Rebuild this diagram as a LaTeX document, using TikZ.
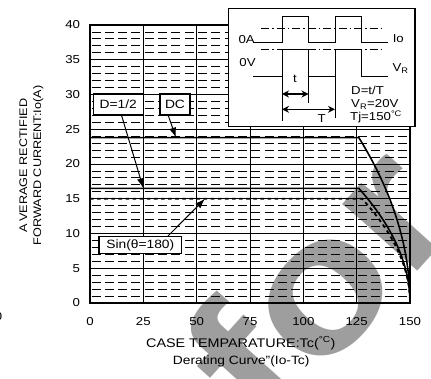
\documentclass[tikz,border=0pt]{standalone}
\usepackage{fontspec}
\setmainfont{Liberation Sans}[FakeStretch=1.15]
\usetikzlibrary{arrows.meta}
\pgfdeclarelayer{marklayer}
\pgfdeclarelayer{gridlayer}
\pgfsetlayers{marklayer,gridlayer,main}
\tikzset{font=\fontsize{11.5}{13}\selectfont}
\tikzstyle{none}=[inner sep=0pt]
\tikzstyle{tick}=[inner sep=0pt]
\tikzstyle{title}=[inner sep=0pt,font=\fontsize{12.5}{14}\selectfont]
\tikzstyle{ytitle}=[inner sep=0pt,rotate=90,font=\fontsize{11}{13}\selectfont]
\tikzstyle{tag}=[draw,fill=white,line width=1.2pt,inner sep=0pt,font=\fontsize{12}{14}\selectfont]
\tikzstyle{watermark}=[inner sep=0pt,text=black!38,rotate=48,font=\fontsize{190}{190}\selectfont\bfseries]
\tikzstyle{minor}=[line width=0.8pt,dash pattern=on 9pt off 4.33pt,dash phase=11.83pt]
\tikzstyle{major}=[line width=0.8pt]
\tikzstyle{frame}=[line width=2.2pt]
\tikzstyle{curve}=[line width=1.6pt,line join=round]
\tikzstyle{sincurve}=[line width=1.8pt,dash pattern=on 3.6pt off 3.5pt]
\tikzstyle{pointer}=[line width=1pt,-{Latex[length=10pt,width=7pt]}]
\tikzstyle{wave}=[line width=1pt]
\tikzstyle{level}=[line width=1pt,dash pattern=on 8pt off 3pt on 1.5pt off 3pt]
\tikzstyle{span}=[line width=1.2pt,{Stealth[length=7pt,width=7pt]}-{Stealth[length=7pt,width=7pt]}]
\newcommand{\degc}{\textsuperscript{\textdegree C}}

\begin{document}
\begin{tikzpicture}[x=1pt,y=1pt]
	\useasboundingbox (0,0) rectangle (431,378);
	\begin{pgfonlayer}{marklayer}
		\node [style=watermark] (mark) at (316.8, 95.6) {for};
	\end{pgfonlayer}
	\begin{scope}[shift={(90,75)},x=2.13333pt,y=6.95pt]
		\begin{pgfonlayer}{gridlayer}
			\foreach \j in {0,5,...,35}
				\foreach \k in {1,...,4}
					\draw [style=minor] (0,\j+\k) -- (150,\j+\k);
			\foreach \j in {5,10,...,35}
				\draw [style=major] (0,\j) -- (150,\j);
			\foreach \i in {25,50,...,125}
				\draw [style=major] (\i,0) -- (\i,40);
		\end{pgfonlayer}
		\draw [style=frame] (0,0) rectangle (150,40);
		\foreach \t in {0,25,...,150}
			\node [style=tick] (x\t) at (\t, -2.7) {\t};
		\foreach \a in {0,5,...,40}
			\node [style=tick, anchor=east] (y\a) at (-4.6, \a) {\a};
		% derating curves
		\draw [style=curve] (0,23.8) -- (126,23.8) -- plot[domain=23.8:0,samples=60] ({150-24*(\x/23.8)^2},\x);
		\draw [style=curve] (0,16.5) -- (126,16.5) -- plot[domain=16.5:0,samples=60] ({150-24*(\x/16.5)^2},\x);
		\draw [style=sincurve] (0,15) -- (127.5,15) -- plot[domain=15:0,samples=60] ({150-22.5*(\x/15)^2},\x);
		% labels
		\coordinate (dhalfpt) at (25, 16.5);
		\coordinate (dcpt) at (40.3, 23.8);
		\coordinate (sinpt) at (53.9, 15);
		\node [style=tag, minimum width=50pt, minimum height=21pt] (dhalf) at (13.27, 28.56) {D=1/2};
		\node [style=tag, minimum width=30pt, minimum height=21pt] (dc) at (39.84, 28.56) {DC};
		\node [style=tag, minimum width=82.7pt, minimum height=16.7pt] (sin) at (23.58, 8.35) {Sin(θ=180)};
		\draw [style=pointer] (dhalf) -- (dhalfpt);
		\draw [style=pointer] ([xshift=-6.7pt]dc.south) -- (dcpt);
		\draw [style=pointer] ([xshift=27.7pt]sin.north) -- (sinpt);
	\end{scope}
	\node [style=ytitle] (ytitle1) at (23.3, 212.5) {A\kern2pt VERAGE RECTIFIED};
	\node [style=ytitle] (ytitle2) at (38.3, 212.5) {FORWARD CURRENT:Io(A)};
	\node [style=title] (xtitle) at (240.8, 34.7) {CASE TEMPARATURE:Tc(\degc)};
	\node [style=title, font=\fontsize{12}{14}\selectfont] (caption) at (241.2, 16.3) {Derating Curve"(Io-Tc)};
	\node [style=tick] (edge0) at (-1.5, 61.3) {0};
	% inset
	\node [draw, fill=white, line width=1.2pt, minimum width=186.7pt, minimum height=118.4pt, inner sep=0pt] (inset) at (321.65, 310.5) {};
	\draw [style=level] (261,349) -- (381.7,349);
	\draw [style=level] (261,328) -- (381.7,328);
	\draw [style=wave] (253,335.3) -- (282,335.3) -- (282,361.3) -- (308.5,361.3) -- (308.5,335.3) -- (335,335.3) -- (335,361.3) -- (361.5,361.3) -- (361.5,335.3) -- (388,335.3);
	\draw [style=wave] (253,301) -- (282,301) -- (282,328) -- (308.5,328) -- (308.5,301) -- (335,301) -- (335,328) -- (361.5,328) -- (361.5,301) -- (388,301);
	\coordinate (a1) at (282,257);
	\coordinate (a2) at (308.5,274.7);
	\coordinate (a3) at (335,260);
	\draw [style=wave] (282,328) -- (a1);
	\draw [style=wave] (308.5,301) -- (a2);
	\draw [style=wave] (335,301) -- (a3);
	\draw [style=span] (a1 |- 0,284) -- (a2 |- 0,284);
	\draw [style=span] (a1 |- 0,268.7) -- (a3 |- 0,268.7);
	\node [style=none] (tlbl) at (295, 299) {t};
	\node [style=none] (Tlbl) at (321.7, 259.7) {T};
	\node [style=none, anchor=base east] (zeroA) at (255, 334) {0A};
	\node [style=none, anchor=base] (zeroV) at (247.5, 311.5) {0V};
	\node [style=none, anchor=base] (iolbl) at (398.3, 335.5) {Io};
	\node [style=none, anchor=base] (vrlbl) at (400.5, 306.3) {V\textsubscript{R}};
	\node [style=none, anchor=base west] (duty) at (351, 283) {D=t/T};
	\node [style=none, anchor=base west] (vr) at (351, 270.5) {V\textsubscript{R}=20V};
	\node [style=none, anchor=base west] (tj) at (350, 257.5) {Tj=150\degc};
\end{tikzpicture}
\end{document}
